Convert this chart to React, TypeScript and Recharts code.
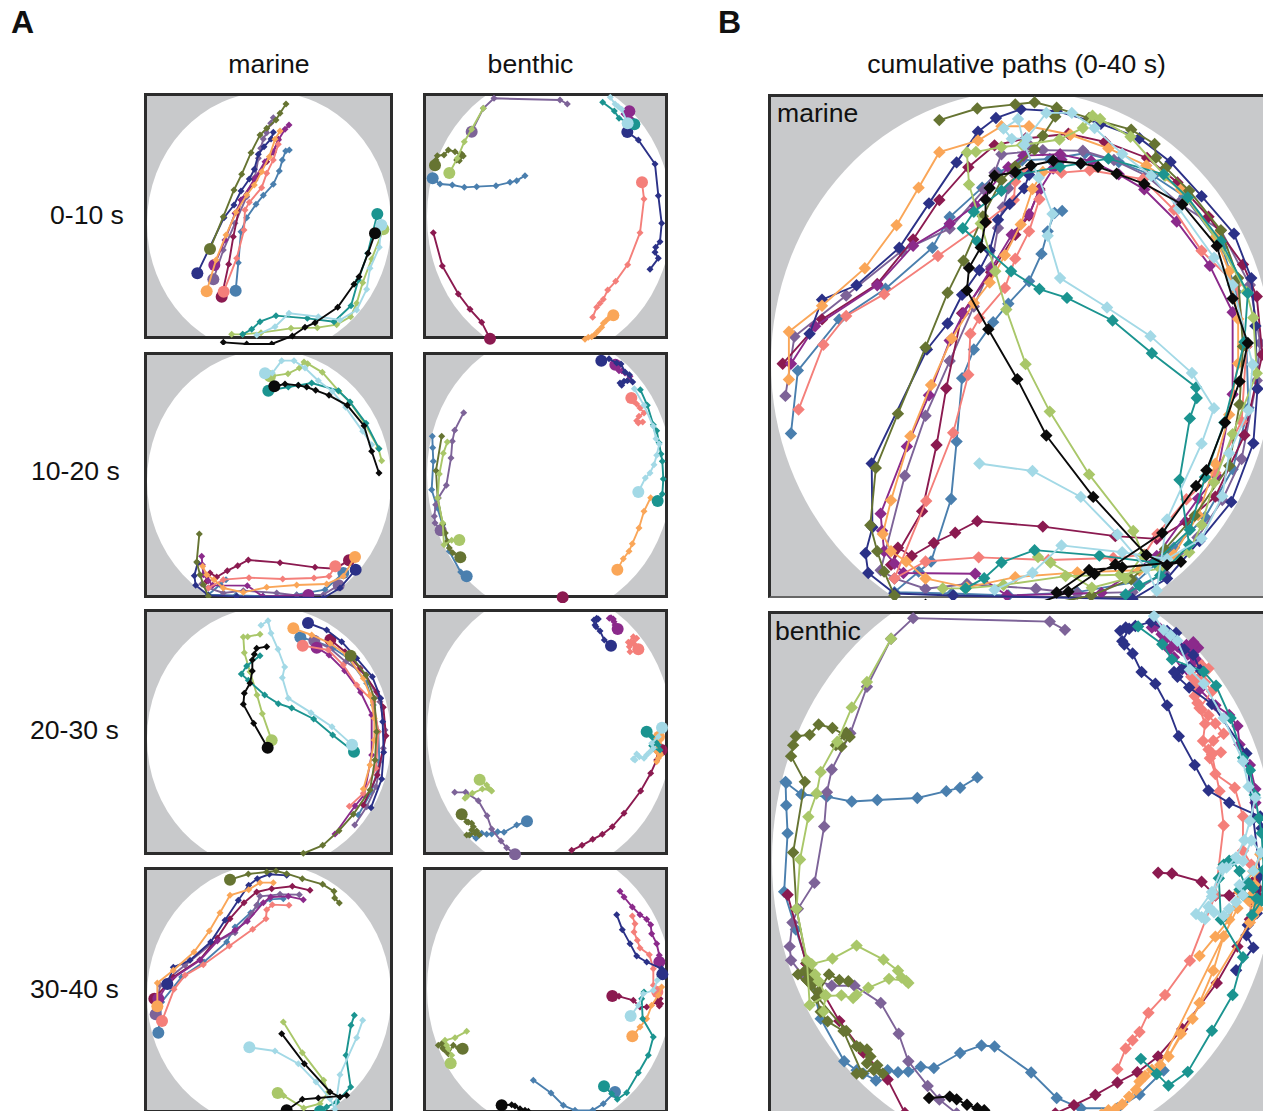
import { ScatterChart, Scatter, XAxis, YAxis } from "recharts";

// ── Fish ─────────────────────────────────────────────────────────────────────

const fishColors: Record<string, string> = {
  steel: "#4a7fae",
  slate: "#7d6398",
  crimson: "#8b1a50",
  purple: "#8b2a8b",
  salmon: "#f47f7a",
  navy: "#2b3187",
  orange: "#faa658",
  olive: "#667432",
  lightgreen: "#a9c769",
  teal: "#1b9490",
  lightblue: "#a3d9e6",
  black: "#0a0a0a",
};
const fishOrder = Object.keys(fishColors);

type Tracks = Record<string, number[][]>;

// ── Positions per 10 s window, last point of each track is where the fish ends ──

const marine0: Tracks = {
  olive: [[438,42],[420,70],[408,90],[380,115],[360,135],[333,188],[305,253],[282,300],[250,380],[210,477]],
  navy: [[400,127],[393,147],[372,170],[355,193],[343,238],[328,267],[303,303],[282,345],[252,383],[172,550]],
  slate: [[400,83],[392,100],[380,128],[370,147],[362,175],[355,205],[345,262],[320,320],[285,400],[250,480],[220,568]],
  purple: [[447,105],[435,118],[415,150],[400,185],[375,215],[345,265],[305,330],[285,370],[255,450],[223,525]],
  orange: [[420,123],[405,148],[388,200],[365,245],[343,285],[320,315],[288,367],[258,435],[228,510],[200,604]],
  crimson: [[415,148],[400,187],[380,215],[345,270],[303,330],[280,440],[266,523],[245,620]],
  salmon: [[415,163],[400,210],[380,250],[365,293],[328,337],[315,360],[312,420],[290,505],[251,605]],
  steel: [[448,180],[437,183],[427,210],[418,243],[400,283],[370,316],[348,343],[320,383],[303,425],[295,518],[287,602]],
  teal: [[308,733],[335,718],[360,695],[408,677],[502,685],[582,695],[633,647],[655,570],[683,490],[712,372]],
  lightblue: [[350,735],[405,710],[447,670],[535,680],[600,690],[650,660],[680,598],[690,535],[718,472],[724,405]],
  lightgreen: [[275,733],[308,733],[363,728],[453,715],[532,713],[590,704],[632,680],[650,640],[668,578],[695,507],[730,418]],
  black: [[250,757],[320,762],[395,762],[457,738],[495,712],[525,698],[593,652],[642,583],[657,560],[684,490],[705,430]],
};

const marine1: Tracks = {
  lightgreen: [[725,338],[715,300],[675,228],[630,163],[597,130],[547,73],[503,47],[492,42],[478,60],[444,77],[390,85]],
  teal: [[717,302],[678,226],[630,162],[595,128],[515,105],[475,112],[445,117],[385,128]],
  lightblue: [[695,290],[668,250],[617,178],[577,130],[535,98],[495,60],[462,38],[425,38],[397,75],[375,76]],
  black: [[717,375],[695,310],[672,233],[622,172],[567,142],[527,127],[500,117],[475,112],[435,108],[403,115]],
  olive: [[178,558],[170,642],[180,680],[190,710],[205,745],[222,800]],
  crimson: [[200,700],[210,675],[230,687],[262,668],[293,653],[325,636],[420,644],[525,658],[585,662],[627,637]],
  salmon: [[205,720],[250,695],[327,689],[428,693],[522,690],[567,685],[586,655]],
  orange: [[188,655],[200,680],[222,695],[250,720],[310,733],[380,718],[470,711],[560,708],[610,685],[645,627]],
  navy: [[173,645],[163,683],[167,712],[205,742],[290,745],[550,750],[600,720],[647,665]],
  purple: [[185,625],[187,650],[190,680],[205,698],[218,712],[322,713],[368,745],[505,741]],
  slate: [[185,708],[205,720],[250,735],[310,728],[410,735],[470,742],[550,740],[596,712]],
  steel: [[258,695],[240,710],[205,740],[288,742],[370,745],[470,740],[555,725],[610,675]],
};

const marine2: Tracks = {
  navy: [[693,608],[725,522],[731,442],[728,350],[722,280],[697,215],[650,160],[605,110],[560,75],[504,54]],
  crimson: [[670,600],[712,510],[738,392],[730,307],[710,260],[660,190],[615,140],[571,104]],
  salmon: [[628,604],[670,565],[708,490],[715,380],[700,290],[650,240],[610,180],[565,135],[488,122]],
  orange: [[670,552],[690,480],[703,405],[703,340],[690,270],[670,220],[620,150],[570,115],[515,90],[460,70]],
  steel: [[655,630],[695,560],[718,470],[715,380],[700,300],[680,235],[625,160],[580,130],[530,110],[481,97]],
  slate: [[644,660],[680,605],[708,545],[730,430],[735,375],[720,290],[678,210],[617,170],[570,130],[523,107]],
  olive: [[490,745],[548,721],[597,677],[640,628],[690,555],[705,465],[710,380],[703,280],[678,210],[632,152]],
  purple: [[585,687],[645,603],[672,570],[695,450],[695,330],[662,262],[614,197],[567,150],[530,128]],
  lightgreen: [[360,88],[323,95],[310,96],[313,143],[330,200],[351,270],[367,326],[395,406]],
  teal: [[360,152],[320,183],[304,207],[325,226],[374,270],[415,296],[455,309],[521,342],[578,390],[642,440]],
  lightblue: [[363,61],[384,47],[393,85],[414,133],[434,186],[427,218],[445,280],[513,323],[576,365],[636,419]],
  black: [[380,125],[350,130],[343,148],[337,165],[337,198],[330,235],[313,265],[310,298],[341,355],[383,428]],
};

const marine3: Tracks = {
  navy: [[440,40],[388,37],[352,50],[326,70],[295,115],[255,175],[212,240],[150,295],[100,316],[82,366]],
  olive: [[598,123],[584,108],[582,88],[548,67],[487,50],[440,35],[408,27],[380,30],[325,36],[270,53]],
  crimson: [[510,85],[457,73],[395,80],[350,90],[312,122],[270,170],[232,228],[180,293],[100,345],[43,410]],
  orange: [[400,62],[360,62],[326,83],[270,100],[240,152],[208,207],[162,270],[100,325],[52,363],[52,433]],
  slate: [[478,98],[420,97],[360,103],[350,130],[335,155],[285,212],[215,245],[135,310],[60,370],[47,457]],
  purple: [[490,113],[445,103],[392,105],[370,122],[322,178],[285,205],[232,237],[180,295],[90,355],[55,410]],
  steel: [[430,110],[390,112],[355,130],[332,152],[285,195],[260,240],[192,300],[125,345],[65,420],[55,512]],
  salmon: [[447,130],[397,128],[380,143],[378,170],[338,202],[268,252],[190,308],[135,340],[102,382],[66,477]],
  lightgreen: [[430,480],[487,572],[551,655],[565,690],[540,725],[491,738],[431,701],[413,693]],
  lightblue: [[668,475],[650,527],[600,638],[585,742],[570,710],[528,660],[475,605],[405,567],[328,556]],
  teal: [[643,460],[633,490],[618,580],[632,675],[590,720],[560,735],[540,748]],
  black: [[425,515],[493,605],[570,690],[600,705],[620,700],[535,708],[487,712],[440,745]],
};

const benthic0: Tracks = {
  slate: [[442,42],[420,30],[222,25],[190,55],[155,125]],
  lightgreen: [[190,55],[155,118],[133,155],[112,205],[88,249]],
  olive: [[125,192],[130,198],[118,212],[110,210],[122,195],[105,185],[85,180],[72,195],[52,197],[48,210],[45,226]],
  steel: [[315,257],[290,272],[270,277],[228,287],[170,290],[133,292],[97,285],[60,282],[38,265]],
  crimson: [[40,428],[67,528],[115,612],[150,658],[185,697],[210,746]],
  navy: [[690,538],[715,505],[705,487],[707,472],[720,455],[725,400],[715,317],[705,222],[655,150],[622,126]],
  salmon: [[518,682],[530,652],[540,640],[550,628],[563,600],[587,574],[623,524],[660,428],[672,327],[666,277]],
  orange: [[495,748],[505,742],[515,740],[525,733],[535,722],[545,712],[550,700],[558,692],[568,683],[580,676]],
  teal: [[548,37],[583,63],[597,85],[643,103]],
  purple: [[640,95],[635,88],[620,78],[612,72],[618,64],[628,60],[635,68],[625,75],[615,70],[628,64]],
  lightblue: [[571,22],[585,42],[595,50],[605,58],[623,100]],
};

const benthic1: Tracks = {
  navy: [[605,112],[612,100],[600,105],[622,98],[638,102],[628,80],[615,72],[603,48],[590,45],[567,32],[544,38]],
  purple: [[625,95],[630,85],[615,75],[605,68],[597,68],[595,55],[586,50]],
  salmon: [[655,225],[668,222],[650,218],[657,205],[672,195],[660,180],[650,168],[640,160],[634,150]],
  teal: [[661,125],[682,172],[700,230],[710,248],[717,284],[723,318],[727,340],[730,393],[727,438],[713,459]],
  lightblue: [[643,122],[672,172],[700,235],[708,272],[718,288],[710,322],[702,350],[690,375],[676,390],[655,432]],
  orange: [[692,449],[672,490],[657,540],[637,587],[627,610],[610,632],[592,665]],
  crimson: [[428,748]],
  slate: [[131,194],[104,247],[97,280],[93,330],[79,412],[55,450],[47,470],[43,505],[45,525],[62,547]],
  steel: [[37,265],[38,299],[40,340],[35,425],[52,480],[68,530],[88,610],[122,672],[140,685]],
  olive: [[65,265],[48,368],[53,450],[68,528],[76,555],[82,580],[88,600],[98,614],[121,628]],
  lightgreen: [[82,282],[70,316],[58,378],[53,450],[68,525],[72,590],[95,577],[118,576]],
};

const benthic2: Tracks = {
  navy: [[530,40],[522,45],[535,42],[525,60],[528,65],[540,78],[553,105],[573,122]],
  purple: [[573,38],[568,40],[580,42],[582,50],[585,60],[593,72]],
  salmon: [[630,140],[625,112],[640,95],[650,100],[635,115],[628,125],[640,110],[645,120],[655,133]],
  crimson: [[455,736],[486,721],[518,703],[547,688],[577,665],[612,625],[662,558],[692,505],[710,465],[712,440],[725,435]],
  lightblue: [[645,465],[640,462],[650,447],[658,455],[672,460],[680,450],[690,440],[700,430],[695,415],[715,395],[726,368]],
  teal: [[720,435],[700,430],[695,422],[708,412],[715,420],[703,415],[695,395],[685,380],[680,380]],
  orange: [[710,470],[722,450],[715,460],[708,438],[720,445],[712,430],[717,415],[717,395]],
  lightgreen: [[135,580],[140,575],[157,565],[187,552],[212,555],[205,550],[215,558],[200,540],[179,524]],
  slate: [[104,562],[137,562],[175,587],[201,632],[215,672],[243,708],[260,728],[285,748]],
  olive: [[148,690],[140,690],[165,685],[178,690],[170,678],[155,675],[160,665],[155,655],[145,652],[140,650],[125,628]],
  steel: [[150,690],[168,700],[185,685],[200,688],[215,687],[233,680],[252,682],[290,660],[321,649]],
};

const benthic3: Tracks = {
  salmon: [[637,162],[645,185],[642,210],[652,235],[660,258],[688,278],[700,320],[700,370],[712,390]],
  purple: [[600,88],[612,105],[637,135],[660,158],[680,172],[692,188],[695,215],[710,245],[718,280],[718,300]],
  navy: [[590,158],[607,203],[630,245],[650,282],[680,300],[725,320],[727,337]],
  orange: [[725,375],[715,400],[695,430],[680,470],[660,495],[637,523]],
  lightblue: [[712,355],[700,385],[670,395],[655,430],[632,462]],
  teal: [[672,390],[665,410],[668,470],[700,525],[685,580],[655,632],[620,692],[592,712],[575,695],[552,673]],
  crimson: [[718,432],[722,425],[715,415],[720,410],[710,420],[680,435],[660,435],[640,415],[597,403],[577,402]],
  steel: [[340,655],[393,693],[430,730],[465,745],[518,745],[550,725],[585,690]],
  lightgreen: [[140,508],[105,527],[75,535],[80,550],[85,560],[95,580],[92,604]],
  olive: [[55,550],[65,545],[72,545],[68,558],[75,565],[70,560],[85,575],[100,550],[115,558],[128,560]],
  black: [[345,760],[325,748],[315,745],[300,740],[285,732],[275,728],[245,730]],
};

const marineWindows = [marine0, marine1, marine2, marine3];
const benthicWindows = [benthic0, benthic1, benthic2, benthic3];
const windowLabels = ["0-10 s", "10-20 s", "20-30 s", "30-40 s"];

// each row's frame sits slightly differently, this lines the windows up in one arena
const rowShift = [0, -1.5, -1.5, -6];

function cumulative(windows: Tracks[]): Tracks {
  const out: Tracks = {};
  windows.forEach((tracks, row) => {
    for (const fish of Object.keys(tracks)) {
      const shifted = tracks[fish].map(([x, y]) => [x, y + rowShift[row]]);
      out[fish] = [...(out[fish] ?? []), ...shifted];
    }
  });
  return out;
}

// ── Marks ────────────────────────────────────────────────────────────────────

function diamond(half: number, fill: string) {
  return (p: any) => (
    <polygon
      points={`${p.cx - half},${p.cy} ${p.cx},${p.cy - half} ${p.cx + half},${p.cy} ${p.cx},${p.cy + half}`}
      fill={fill}
    />
  );
}

function dot(r: number, fill: string) {
  return (p: any) => <circle cx={p.cx} cy={p.cy} r={r} fill={fill} />;
}

interface TrackChartProps {
  tracks: Tracks;
  left: number;
  top: number;
  width: number;
  height: number;
  xMax: number;
  yMax: number;
  marker: number;
  lineWidth: number;
  endDot?: number;
}

function TrackChart({ tracks, left, top, width, height, xMax, yMax, marker, lineWidth, endDot }: TrackChartProps) {
  const fishes = fishOrder.filter((f) => tracks[f]);
  return (
    <div style={{ position: "absolute", left, top }}>
      <ScatterChart width={width} height={height} margin={{ top: 0, right: 0, bottom: 0, left: 0 }}>
        <XAxis type="number" dataKey="x" domain={[0, xMax]} allowDataOverflow hide />
        <YAxis type="number" dataKey="y" domain={[0, yMax]} allowDataOverflow reversed hide />
        {fishes.flatMap((fish) => {
          const color = fishColors[fish];
          const points = tracks[fish].map(([x, y]) => ({ x, y }));
          return [
            <Scatter
              key={fish}
              data={points}
              line={{ stroke: color, strokeWidth: lineWidth }}
              lineType="joint"
              shape={diamond(marker, color)}
              isAnimationActive={false}
            />,
            endDot ? (
              <Scatter
                key={fish + "-end"}
                data={points.slice(-1)}
                shape={dot(endDot, color)}
                isAnimationActive={false}
              />
            ) : null,
          ];
        })}
      </ScatterChart>
    </div>
  );
}

// ── Layout ───────────────────────────────────────────────────────────────────

function Arena({ left, top, width, height, cx, cy, a, b, thin }: any) {
  return (
    <div
      style={{
        position: "absolute",
        left,
        top,
        width,
        height,
        boxSizing: "border-box",
        border: "3px solid #2c2c2c",
        borderBottom: thin ? "2px solid #666" : "3px solid #2c2c2c",
        background: "#c8c9cb",
        overflow: "hidden",
      }}
    >
      <div
        style={{
          position: "absolute",
          left: cx - a - left - 3,
          top: cy - b - top - 3,
          width: a * 2,
          height: b * 2,
          borderRadius: "50%",
          background: "#fff",
        }}
      />
    </div>
  );
}

function Label({ x, y, center, bold, size = 26.6, children }: any) {
  return (
    <div
      style={{
        position: "absolute",
        left: x,
        top: y,
        fontSize: size,
        lineHeight: 1,
        fontWeight: bold ? 700 : 400,
        whiteSpace: "nowrap",
        color: "#111",
        transform: center ? "translateX(-50%)" : undefined,
      }}
    >
      {children}
    </div>
  );
}

const rowCropTop = [90, 348, 605, 862];
const rowFrameTop = [93, 352, 609, 867];
const rowLabelX = [50, 31, 30, 30];
const rowLabelY = [202, 458, 717, 976];
// the second marine row is cut at its frame, the track leaves the arena there
const marineChartHeight = [255, 250, 255, 255];

export default function App() {
  return (
    <div
      style={{
        position: "absolute",
        left: 0,
        top: 0,
        width: 1263,
        height: 1111,
        overflow: "hidden",
        background: "#fff",
        fontFamily: "'Liberation Sans', Arial, sans-serif",
      }}
    >
      <Label x={11} y={6} bold size={32}>A</Label>
      <Label x={718} y={6} bold size={32}>B</Label>
      <Label x={269} y={51} center>marine</Label>
      <Label x={530.5} y={51} center>benthic</Label>
      <Label x={1016.5} y={51} center>cumulative paths (0-40 s)</Label>

      {windowLabels.map((label, i) => (
        <Label key={label} x={rowLabelX[i]} y={rowLabelY[i]}>{label}</Label>
      ))}

      {rowCropTop.map((cropTop, i) => (
        <div key={cropTop}>
          <Arena left={144} top={rowFrameTop[i]} width={249} height={246} cx={268.7} cy={cropTop + 133.3} a={122} b={131.7} />
          <Arena left={423} top={rowFrameTop[i]} width={245} height={246} cx={549.2} cy={cropTop + 126.7} a={122.5} b={141.3} />
          <TrackChart tracks={marineWindows[i]} left={140} top={cropTop} width={260} height={marineChartHeight[i]} xMax={780} yMax={marineChartHeight[i] * 3} marker={3.5} lineWidth={1.9} endDot={6} />
          <TrackChart tracks={benthicWindows[i]} left={420} top={cropTop} width={255} height={255} xMax={765} yMax={765} marker={3.5} lineWidth={1.9} endDot={6} />
        </div>
      ))}

      <Arena left={768} top={94} width={520} height={504} cx={1022} cy={363} a={251} b={272} thin />
      <TrackChart tracks={cumulative(marineWindows)} left={753} top={87.5} width={510} height={512} xMax={739} yMax={750} marker={6.2} lineWidth={1.9} />

      <Arena left={768} top={611} width={520} height={520} cx={1024} cy={861} a={252} b={291} />
      <TrackChart tracks={cumulative(benthicWindows)} left={760} top={601} width={503} height={510} xMax={729} yMax={743} marker={6.2} lineWidth={1.9} />

      <Label x={777} y={100}>marine</Label>
      <Label x={775} y={618}>benthic</Label>
    </div>
  );
}
